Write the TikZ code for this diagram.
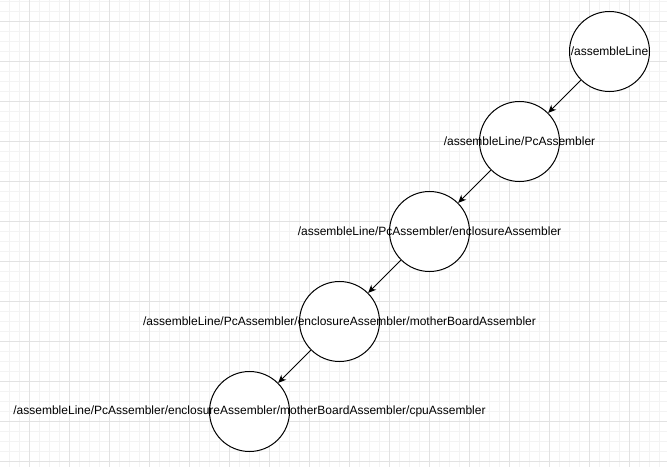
\documentclass[tikz,border=0pt]{standalone}
\usepackage{fontspec}
\setmainfont{Liberation Sans}
\usetikzlibrary{arrows.meta}
\definecolor{minorgrid}{HTML}{F3F3F3}
\definecolor{majorgrid}{HTML}{E2E2E2}
\tikzset{
  circ/.style={circle, draw=black, fill=white, line width=1pt, minimum size=80pt, inner sep=0pt},
  lbl/.style={font=\fontsize{12pt}{14pt}\selectfont, inner sep=0pt, anchor=center},
  conn/.style={draw=black, line width=1pt, -{Stealth[length=8pt,width=7pt,inset=2.5pt]}}
}
\begin{document}
\begin{tikzpicture}[x=1pt,y=-1pt]
\useasboundingbox (0,0) rectangle (667,467);
\fill[white] (0,0) rectangle (667,467);
\foreach \i in {0,...,66} {
  \pgfmathsetmacro{\xx}{9+10*\i}
  \draw[minorgrid, line width=1pt] (\xx,0) -- (\xx,467);
}
\foreach \i in {0,...,46} {
  \pgfmathsetmacro{\yy}{1+10*\i}
  \draw[minorgrid, line width=1pt] (0,\yy) -- (667,\yy);
}
\foreach \i in {0,...,16} {
  \pgfmathsetmacro{\xx}{29+40*\i}
  \draw[majorgrid, line width=1pt] (\xx,0) -- (\xx,467);
}
\foreach \i in {0,...,11} {
  \pgfmathsetmacro{\yy}{21+40*\i}
  \draw[majorgrid, line width=1pt] (0,\yy) -- (667,\yy);
}
\node[circ] (c1) at (609.5,51.5) {};
\node[circ] (c2) at (519.5,141.5) {};
\node[circ] (c3) at (429.5,231.5) {};
\node[circ] (c4) at (339.5,321.5) {};
\node[circ] (c5) at (249.5,411.5) {};
\node[lbl] (t1) at (c1.center) {/assembleLine};
\node[lbl] (t2) at (c2.center) {/assembleLine/PcAssembler};
\node[lbl] (t3) at (c3.center) {/assembleLine/PcAssembler/enclosureAssembler};
\node[lbl] (t4) at (c4.center) {/assembleLine/PcAssembler/enclosureAssembler/motherBoardAssembler};
\node[lbl] (t5) at (c5.center) {/assembleLine/PcAssembler/enclosureAssembler/motherBoardAssembler/cpuAssembler};
\draw[conn] (c1) -- (c2);
\draw[conn] (c2) -- (c3);
\draw[conn] (c3) -- (c4);
\draw[conn] (c4) -- (c5);
\end{tikzpicture}
\end{document}
